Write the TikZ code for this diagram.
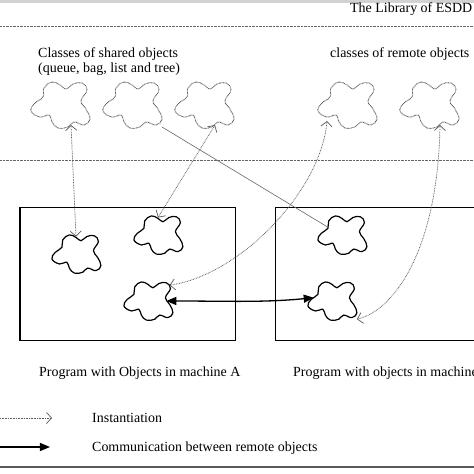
\documentclass[tikz,border=0pt]{standalone}
\usepackage{fontspec}
\setmainfont{Liberation Serif}
\usetikzlibrary{arrows.meta, positioning, calc}

\tikzset{
  blob/.pic={
    \draw plot[smooth cycle, tension=0.7] coordinates {(-16,-17) (-8,-23) (0,-20) (6,-16) (13,-21) (22,-22) (27,-15) (21,-4) (26,4) (30,14) (24,20) (14,17) (8,22) (-2,23) (-8,17) (-11,10) (-20,12) (-29,6) (-25,-2) (-17,-8)};
    \coordinate (-n) at (0,-21);
    \coordinate (-ne) at (26,-19);
    \coordinate (-nw) at (-18,-10);
    \coordinate (-e) at (22,0);
    \coordinate (-w) at (-22,-4);
    \coordinate (-s) at (11,20);
    \coordinate (-se) at (30,22);
    \coordinate (-sw) at (-20,16);
  },
  classblob/.style={line width=0.9pt, black!70, dash pattern=on 0.7pt off 0.7pt},
  objblob/.style={line width=1.2pt, scale=0.83},
  inst/.style={black!65, line width=0.7pt, dash pattern=on 0.8pt off 0.8pt, <->, >={Straight Barb[length=5pt,width=11pt]}},
  comm/.style={line width=1.3pt, <->, >={Triangle[length=10pt,width=8pt]}},
  lbl/.style={anchor=base west, inner sep=0pt, font=\fontsize{13.9}{16}\selectfont},
}

\begin{document}
\begin{tikzpicture}[x=0.35mm, y=-0.35mm]
    \useasboundingbox (0,0) rectangle (474,474);
    \clip (0,0) rectangle (474,474);

    % Frame lines
    \fill[gray!35] (0,0) rectangle (474,2.5);
    \draw[black!60, line width=0.8pt, dash pattern=on 0.8pt off 0.6pt] (0,26) -- (474,26);
    \draw[black!60, line width=0.8pt, dash pattern=on 0.8pt off 0.6pt] (0,160) -- (474,160);
    \draw[black!65, line width=2pt] (0,467) -- (474,467);
    \node[lbl] (lib) at (350,12) {The Library of ESDD};

    % Classes
    \node[lbl] (shared) at (38,57) {Classes of shared objects};
    \node[lbl] (sharedlist) at (38,72) {(queue, bag, list and tree)};
    \node[lbl] (remote) at (330,57) {classes of remote objects};
    \pic[classblob] (s1) at (60,105) {blob};
    \pic[classblob] (s2) at (132,105) {blob};
    \pic[classblob] (s3) at (204,105) {blob};
    \pic[classblob] (r1) at (347,105) {blob};
    \pic[classblob] (r2) at (429,105) {blob};

    % Machines
    \draw[line width=1pt] (20,207) rectangle (235,340);
    \draw[line width=1pt] (275,207) rectangle (490,340);
    \pic[objblob] (a1) at (76,254) {blob};
    \pic[objblob] (a2) at (158,235) {blob};
    \pic[objblob] (a3) at (148,301) {blob};
    \pic[objblob] (b1) at (342,235) {blob};
    \pic[objblob] (b2) at (332,301) {blob};
    \node[lbl] (progA) at (39,376) {Program with Objects in machine A};
    \node[lbl] (progB) at (293,376) {Program with objects in machine B};

    % Links
    \draw[inst] (s1-s) -- (a1-n);
    \draw[inst] (s3-s) -- (a2-n);
    \draw[black!60, line width=0.6pt] (s2-se) -- (b1-nw);
    \draw[inst] (r1-sw) .. controls +(-6,70) and +(70,-10) .. (a3-ne);
    \draw[inst] (r2-s) .. controls +(-2,120) and +(40,-10) .. (b2-se);
    \draw[comm] (a3-e) .. controls +(60,0) and +(-50,5) .. (b2-w);

    % Legend
    \coordinate (instA) at (0,418);
    \coordinate (instB) at (52,418);
    \coordinate (commA) at (0,447);
    \coordinate (commB) at (50,447);
    \draw[inst, ->] (instA) -- (instB);
    \draw[comm, ->] (commA) -- (commB);
    \node[lbl] (instlbl) at (92,422) {Instantiation};
    \node[lbl] (commlbl) at (92,451) {Communication between remote objects};
\end{tikzpicture}
\end{document}
